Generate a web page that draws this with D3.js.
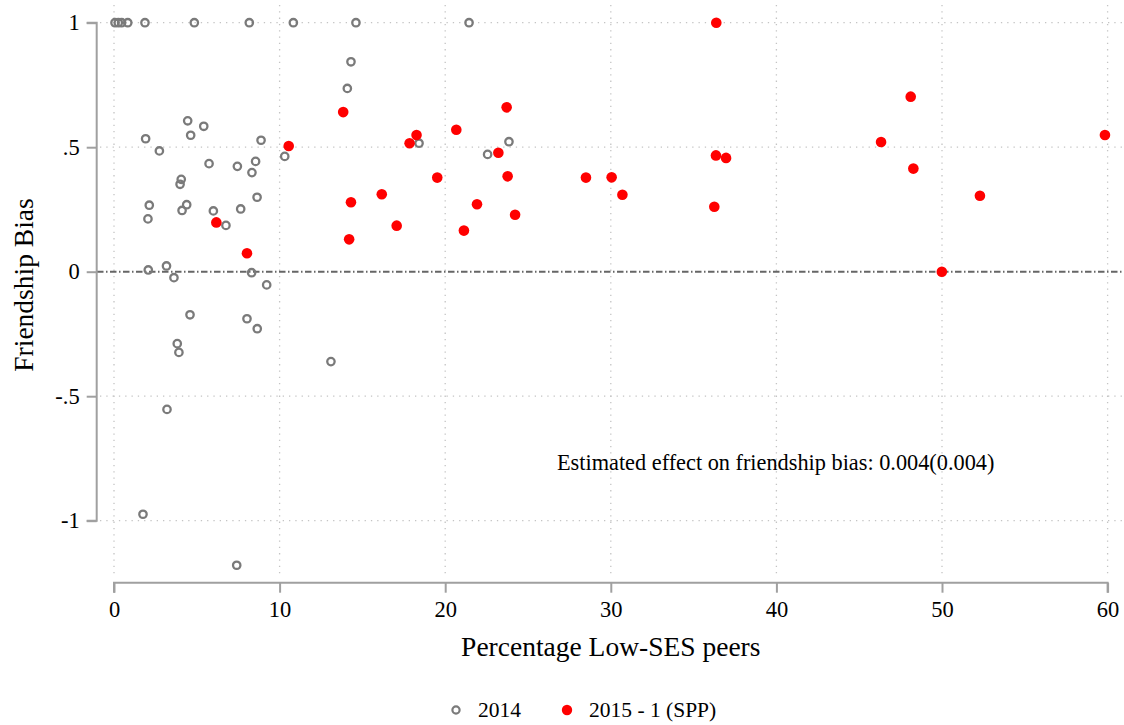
<!DOCTYPE html>
<html>
<head>
<meta charset="utf-8">
<script src="https://cdn.jsdelivr.net/npm/d3@7"></script>
<style>
    body { margin: 0; background: #fff; }
    svg { display: block; font-family: "Liberation Serif", "Times New Roman", serif; }
    .grid line { stroke: #c4c4c4; stroke-width: 1.3; stroke-dasharray: 1.3,5; }
    .axis path, .axis line { stroke: #a0a0a0; stroke-width: 2; }
    .axis text { font-size: 22.5px; fill: #000; font-family: "Liberation Serif", serif; }
</style>
</head>
<body>
<div id="chart"></div>
<script>
// values
const x2014 = [0.06, 0.26, 0.46, 0.83, 1.87, 4.85, 8.17, 10.83, 14.61, 21.44,
    14.31, 14.09, 1.91, 2.74, 4.45, 4.63, 5.42, 8.88, 5.74, 7.45,
    8.55, 8.33, 4.06, 3.99, 2.13, 2.05, 4.39, 4.11, 6.0, 7.65,
    8.64, 6.76, 10.31, 2.07, 3.17, 3.62, 8.31, 9.22, 4.59, 8.03,
    8.65, 3.82, 3.92, 13.1, 3.2, 1.75, 7.41, 18.42, 22.56, 23.85];
const y2014 = [1, 1, 1, 1, 1, 1, 1, 1, 1, 1,
    0.843, 0.736, 0.534, 0.485, 0.606, 0.548, 0.584, 0.528, 0.434, 0.423,
    0.443, 0.398, 0.371, 0.351, 0.267, 0.212, 0.269, 0.246, 0.244, 0.252,
    0.299, 0.186, 0.463, 0.007, 0.023, -0.024, -0.004, -0.053, -0.173, -0.189,
    -0.229, -0.289, -0.324, -0.361, -0.553, -0.974, -1.179, 0.516, 0.471, 0.522];

const xSPP = [6.18, 8.03, 10.55, 13.84, 14.31, 14.2, 16.17, 17.07, 17.85, 18.27,
    19.52, 20.67, 21.92, 21.13, 23.21, 23.71, 23.77, 24.22, 28.5, 30.05,
    30.7, 36.37, 36.35, 36.96, 36.25, 48.11, 46.32, 48.27, 52.29, 49.99, 59.84];
const ySPP = [0.198, 0.074, 0.505, 0.641, 0.279, 0.13, 0.311, 0.185, 0.516, 0.549,
    0.378, 0.57, 0.271, 0.165, 0.478, 0.66, 0.383, 0.229, 0.378, 0.379,
    0.309, 1.0, 0.467, 0.457, 0.261, 0.703, 0.521, 0.414, 0.305, 0.0, 0.549];

const xTicks = [0, 10, 20, 30, 40, 50, 60];
const yTicks = [-1, -0.5, 0, 0.5, 1];
const yTickLabels = ["-1", "-.5", "0", ".5", "1"];
const legendLabels = ["2014", "2015 - 1 (SPP)"];
const note = "Estimated effect on friendship bias: 0.004(0.004)";

const W = 1124, H = 725;
const plot = {left: 97, right: 1124, top: 5, bottom: 578};

const x = d3.scaleLinear().domain([0, 60]).range([114, 1107.6]);
const y = d3.scaleLinear().domain([-1, 1]).range([520.7, 22.7]);

const svg = d3.select("#chart").append("svg")
    .attr("width", W).attr("height", H);

// dotted grid
const grid = svg.append("g").attr("class", "grid");
grid.selectAll(".gx").data(xTicks).enter().append("line")
    .attr("x1", d => x(d)).attr("x2", d => x(d))
    .attr("y1", plot.top).attr("y2", plot.bottom);
grid.selectAll(".gy").data(yTicks.filter(d => d !== 0)).enter().append("line")
    .attr("x1", plot.left + 3).attr("x2", plot.right)
    .attr("y1", d => y(d)).attr("y2", d => y(d));

// zero reference line
svg.append("line")
    .attr("x1", plot.left).attr("x2", plot.right)
    .attr("y1", y(0)).attr("y2", y(0))
    .attr("stroke", "#666").attr("stroke-width", 2)
    .attr("stroke-dasharray", "6.5,2.5,1.5,2.5");

// axes
const yAxis = d3.axisLeft(y).tickValues(yTicks).tickSize(10).tickPadding(7)
    .tickFormat((d, i) => yTickLabels[i]);
const gy = svg.append("g").attr("class", "axis")
    .attr("transform", "translate(96.7,0)")
    .call(yAxis);
gy.select(".domain").attr("d", `M-10,${y(1)}H0V${y(-1)}H-10`);

const xAxis = d3.axisBottom(x).tickValues(xTicks).tickSize(10).tickPadding(8);
const gx = svg.append("g").attr("class", "axis")
    .attr("transform", "translate(0,582.7)")
    .call(xAxis);
gx.select(".domain").attr("d", `M${x(0)},10V0H${x(60)}V10`);

// points
svg.append("g").selectAll("circle")
    .data(x2014.map((d, i) => [d, y2014[i]]))
    .enter().append("circle")
    .attr("cx", d => x(d[0])).attr("cy", d => y(d[1]))
    .attr("r", 3.7)
    .attr("fill", "none").attr("stroke", "#7a7a7a").attr("stroke-width", 2.3);

svg.append("g").selectAll("circle")
    .data(xSPP.map((d, i) => [d, ySPP[i]]))
    .enter().append("circle")
    .attr("cx", d => x(d[0])).attr("cy", d => y(d[1]))
    .attr("r", 5.3)
    .attr("fill", "#ff0000");

// annotation
svg.append("text")
    .attr("x", 557).attr("y", 470)
    .style("font-size", "22.3px")
    .text(note);

// axis titles
svg.append("text")
    .attr("x", x(30)).attr("y", 656)
    .attr("text-anchor", "middle")
    .style("font-size", "27.5px")
    .text("Percentage Low-SES peers");

svg.append("text")
    .attr("transform", "translate(33,285) rotate(-90)")
    .attr("text-anchor", "middle")
    .style("font-size", "27.5px")
    .text("Friendship Bias");

// legend
const leg = svg.append("g");
leg.append("circle").attr("cx", 456).attr("cy", 710)
    .attr("r", 3.6).attr("fill", "none").attr("stroke", "#7a7a7a").attr("stroke-width", 2.2);
leg.append("text").attr("x", 478).attr("y", 717).style("font-size", "21.5px").text(legendLabels[0]);
leg.append("circle").attr("cx", 567).attr("cy", 710)
    .attr("r", 5.2).attr("fill", "#ff0000");
leg.append("text").attr("x", 589).attr("y", 717).style("font-size", "21.5px").text(legendLabels[1]);
</script>
</body>
</html>
